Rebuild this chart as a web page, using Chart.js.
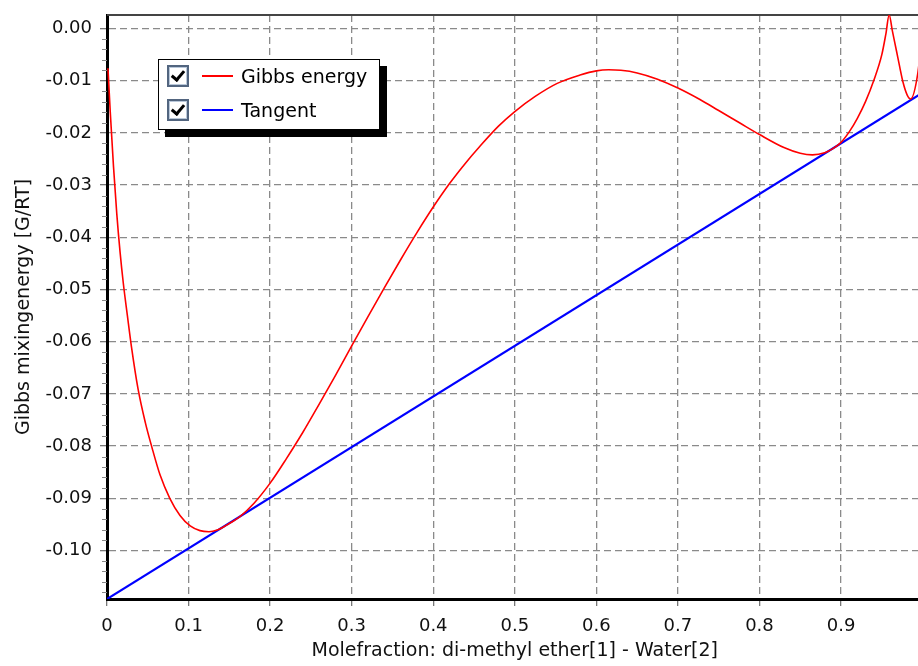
<!DOCTYPE html>
<html>
<head>
<meta charset="utf-8">
<script src="https://cdn.jsdelivr.net/npm/chart.js@4.4.1/dist/chart.umd.min.js"></script>
<style>
html, body { margin: 0; padding: 0; background: #fff; overflow: hidden; }
#wrap { position: relative; width: 940px; height: 666px; }
#legend {
    position: absolute; left: 158px; top: 59px; width: 220px; height: 69px;
    border: 1px solid #000; background: #fff; box-shadow: 7px 7px 0 #000;
    font-family: "DejaVu Sans", sans-serif; font-size: 19px; color: #000;
}
.item { position: absolute; left: 0; width: 220px; height: 23px; }
.box {
    position: absolute; left: 8px; top: 0; width: 18px; height: 18px;
    border: 2px solid #52657f; box-shadow: inset 0 0 0 1px #b9c8da; background: #fff;
}
.box::after {
    content: ''; position: absolute; left: 5px; top: 1px; width: 5px; height: 10px;
    border: solid #000; border-width: 0 3px 3px 0; transform: rotate(40deg);
}
.swatch { position: absolute; left: 43px; top: 10px; width: 31px; height: 2px; }
.label { position: absolute; left: 82px; top: 0; line-height: 23px; white-space: nowrap; }
</style>
</head>
<body>
<div id="wrap">
    <canvas id="gibbsChart" width="940" height="666"></canvas>
    <div id="legend"></div>
</div>
<script>
// tick labels
const xTicks = [0, 0.1, 0.2, 0.3, 0.4, 0.5, 0.6, 0.7, 0.8, 0.9, 1]
const yTicks = [0, -0.01, -0.02, -0.03, -0.04, -0.05, -0.06, -0.07, -0.08, -0.09, -0.10]

// Gibbs mixing energy curve
const gibbsX = [0.0012, 0.004, 0.008, 0.012, 0.016, 0.020, 0.025, 0.030, 0.038, 0.047,
    0.055, 0.065, 0.077, 0.0895, 0.102, 0.114, 0.125, 0.135, 0.147, 0.163,
    0.18, 0.2, 0.22, 0.24, 0.26, 0.28, 0.30, 0.32, 0.34, 0.36,
    0.38, 0.40, 0.42, 0.44, 0.457, 0.48, 0.50, 0.525, 0.552, 0.58,
    0.60, 0.615, 0.63, 0.65, 0.675, 0.70, 0.727, 0.75, 0.776, 0.80,
    0.83, 0.85, 0.865, 0.88, 0.89, 0.90, 0.91, 0.92, 0.93, 0.94,
    0.95, 0.955, 0.959, 0.963, 0.968, 0.972, 0.976, 0.981, 0.9853, 0.9942, 1.0]
const gibbsY = [-0.0076, -0.0160, -0.0265, -0.0355, -0.0428, -0.0488, -0.0550, -0.0610, -0.0690, -0.0755,
    -0.0802, -0.0855, -0.0900, -0.0933, -0.0953, -0.0962, -0.0964, -0.0961, -0.0951, -0.0935,
    -0.0910, -0.0871, -0.0824, -0.0774, -0.0720, -0.0665, -0.0608, -0.0552, -0.0497, -0.0443,
    -0.0391, -0.0342, -0.0297, -0.0257, -0.0226, -0.0187, -0.0159, -0.0130, -0.0105, -0.0089,
    -0.0081, -0.0079, -0.0080, -0.0085, -0.0097, -0.0114, -0.0136, -0.0157, -0.0181, -0.0203,
    -0.0228, -0.0239, -0.0242, -0.0238, -0.0230, -0.0218, -0.0198, -0.0172, -0.0140, -0.0100,
    -0.0050, -0.0010, 0.0026, -0.0005, -0.0043, -0.0074, -0.0103, -0.0127, -0.0135, -0.0085, 0.0]

// tangent line
const tangentX = [0, 1]
const tangentY = [-0.1093, -0.0123]

const FONT = '"DejaVu Sans", sans-serif'

// short ticks between the labelled ones on the y axis, plus the top frame line
const frame = {
    id: 'frame',
    beforeDatasetsDraw(chart) {
        const {ctx, chartArea} = chart
        ctx.save()
        ctx.strokeStyle = '#444'
        ctx.lineWidth = 2
        ctx.beginPath()
        ctx.moveTo(chartArea.left, chartArea.top)
        ctx.lineTo(chartArea.right, chartArea.top)
        ctx.stroke()
        const y = chart.scales.y
        ctx.strokeStyle = '#888'
        ctx.lineWidth = 1
        const step = (yTicks[0] - yTicks[1]) / 5
        for (let k = 0; k > -60; k--) {
            const v = k * step
            if (v < y.min) break
            if (k % 5 == 0) continue
            const py = Math.round(y.getPixelForValue(v)) + 0.5
            ctx.beginPath()
            ctx.moveTo(chartArea.left - 5, py)
            ctx.lineTo(chartArea.left, py)
            ctx.stroke()
        }
        ctx.restore()
    }
}

const chart = new Chart('gibbsChart', {
    type: 'line',
    data: {
        datasets: [{
            label: 'Gibbs energy',
            data: gibbsX.map((x, i) => ({x: x, y: gibbsY[i]})),
            borderColor: '#ff0000',
            borderWidth: 1.6,
            pointRadius: 0,
            cubicInterpolationMode: 'monotone'
        }, {
            label: 'Tangent',
            data: tangentX.map((x, i) => ({x: x, y: tangentY[i]})),
            borderColor: '#0000ff',
            borderWidth: 2.2,
            pointRadius: 0
        }]
    },
    options: {
        responsive: false,
        animation: false,
        devicePixelRatio: 1,
        layout: { padding: { top: 15, right: 17.4, left: 0, bottom: 0 } },
        plugins: { legend: { display: false }, tooltip: { enabled: false } },
        scales: {
            x: {
                type: 'linear',
                min: 0,
                max: 1,
                afterBuildTicks: (scale) => { scale.ticks = xTicks.map(v => ({value: v})) },
                afterFit: (scale) => {
                    scale.height = 67
                    scale.paddingLeft = 0
                    scale.paddingRight = 0
                },
                ticks: {
                    callback: (v) => String(+v.toFixed(1)),
                    font: { family: FONT, size: 18 },
                    color: '#111',
                    padding: 10,
                    maxRotation: 0,
                    autoSkip: false
                },
                grid: { color: '#8a8a8a', lineWidth: 1.3, tickLength: 7, tickColor: '#777' },
                border: { display: true, color: '#000', width: 3, dash: [7, 4] },
                title: {
                    display: true,
                    text: 'Molefraction: di-methyl ether[1] - Water[2]',
                    font: { family: FONT, size: 19 },
                    color: '#111',
                    padding: { top: 0, bottom: 4 }
                }
            },
            y: {
                type: 'linear',
                min: -0.1093,
                max: 0.0026,
                afterBuildTicks: (scale) => { scale.ticks = yTicks.map(v => ({value: v})) },
                afterFit: (scale) => {
                    scale.width = 107
                    scale.paddingTop = 0
                    scale.paddingBottom = 0
                },
                ticks: {
                    callback: (v) => v.toFixed(2),
                    font: { family: FONT, size: 18 },
                    color: '#111',
                    padding: 8,
                    autoSkip: false
                },
                grid: { color: '#8a8a8a', lineWidth: 1.3, tickLength: 7, tickColor: '#777' },
                border: { display: true, color: '#000', width: 3, dash: [7, 4] },
                title: {
                    display: true,
                    text: 'Gibbs mixingenergy [G/RT]',
                    font: { family: FONT, size: 19 },
                    color: '#111',
                    padding: { top: 13, bottom: 0 }
                }
            }
        }
    },
    plugins: [frame]
})

// legend with check boxes, built from the chart's datasets
const legend = document.getElementById('legend')
const rowTops = [5, 39]
chart.data.datasets.forEach((ds, i) => {
    const row = document.createElement('div')
    row.className = 'item'
    row.style.top = rowTops[i] + 'px'
    row.innerHTML = '<div class="box"></div><div class="swatch" style="background:' + ds.borderColor +
        '"></div><div class="label">' + ds.label + '</div>'
    legend.appendChild(row)
})
</script>
</body>
</html>
